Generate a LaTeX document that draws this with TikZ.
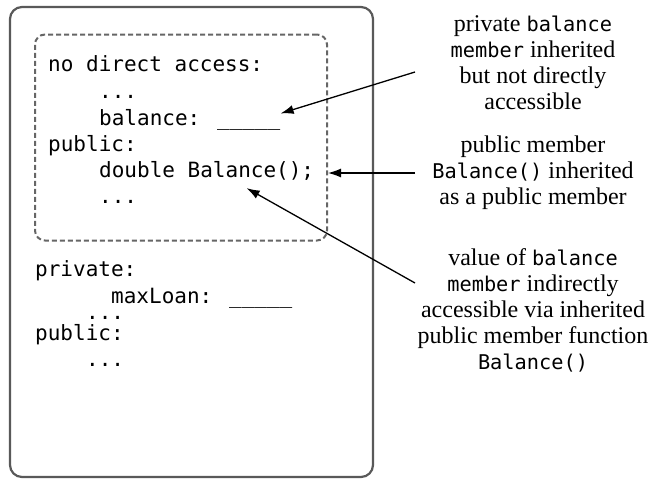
\documentclass[tikz,border=0pt]{standalone}
\usepackage{fontspec}
\setmainfont{Liberation Serif}
\newfontfamily\codefont{DejaVu Sans Mono}
\usepackage{tikz}
\usetikzlibrary{arrows.meta}

\newcommand{\cd}[1]{{\codefont\fontsize{20.3}{26}\selectfont #1}}

\begin{document}
\begin{tikzpicture}[x=1pt, y=-1pt,
        frame/.style={rectangle, draw=black!65, line width=2.2pt, rounded corners=12pt, minimum width=363pt, minimum height=470pt},
        scopebox/.style={rectangle, draw=black!60, line width=2pt, dash pattern=on 5pt off 3pt, rounded corners=10pt, minimum width=292pt, minimum height=206pt},
        code/.style={font=\codefont\fontsize{21}{26}\selectfont, anchor=base west, inner sep=0pt},
        note/.style={font=\fontsize{24}{26}\selectfont, align=center, anchor=north, inner sep=0pt},
        pointer/.style={-{Latex[length=13pt, width=9pt]}, line width=1.3pt}]
        \useasboundingbox (0,0) rectangle (652,479);

        % Boxes
        \node[frame] (account) at (191.5,242) {};
        \node[scopebox] (inherited) at (181,137.5) {};

        % Inherited part
        \node[code] (noaccess) at (48,71) {no direct access:};
        \node[code] (dots1) at (99,98) {...};
        \node[code] (bal) at (99,125) {balance: \_\_\_\_\_};
        \node[code] (pub1) at (48,151) {public:};
        \node[code] (dbl) at (99,177) {double Balance();};
        \node[code] (dots2) at (99,203) {...};

        % Own members
        \node[code] (priv) at (35,276) {private:};
        \node[code] (loan) at (111,303) {maxLoan: \_\_\_\_\_};
        \node[code] (dots3) at (86,319) {...};
        \node[code] (pub2) at (35,340) {public:};
        \node[code] (dots4) at (86,366) {...};

        % Notes
        \node[note] (note1) at (533,15.6) {private \cd{balance}\\ \cd{member} inherited\\ but not directly\\ accessible};
        \node[note] (note2) at (533,135.6) {public member\\ \cd{Balance()} inherited\\ as a public member};
        \node[note] (note3) at (533,248.6) {value of \cd{balance}\\ \cd{member} indirectly\\ accessible via inherited\\ public member function\\ \cd{Balance()}};

        % Pointers
        \coordinate (from1) at (415,72);
        \coordinate (from2) at (415,173);
        \coordinate (from3) at (415,283);
        \draw[pointer] (from1) -- ([yshift=6pt]bal.east);
        \draw[pointer] (from2) -- (from2 -| inherited.east);
        \draw[pointer] (from3) -- ([xshift=40pt, yshift=-8pt]dbl.south);

    \end{tikzpicture}
\end{document}
